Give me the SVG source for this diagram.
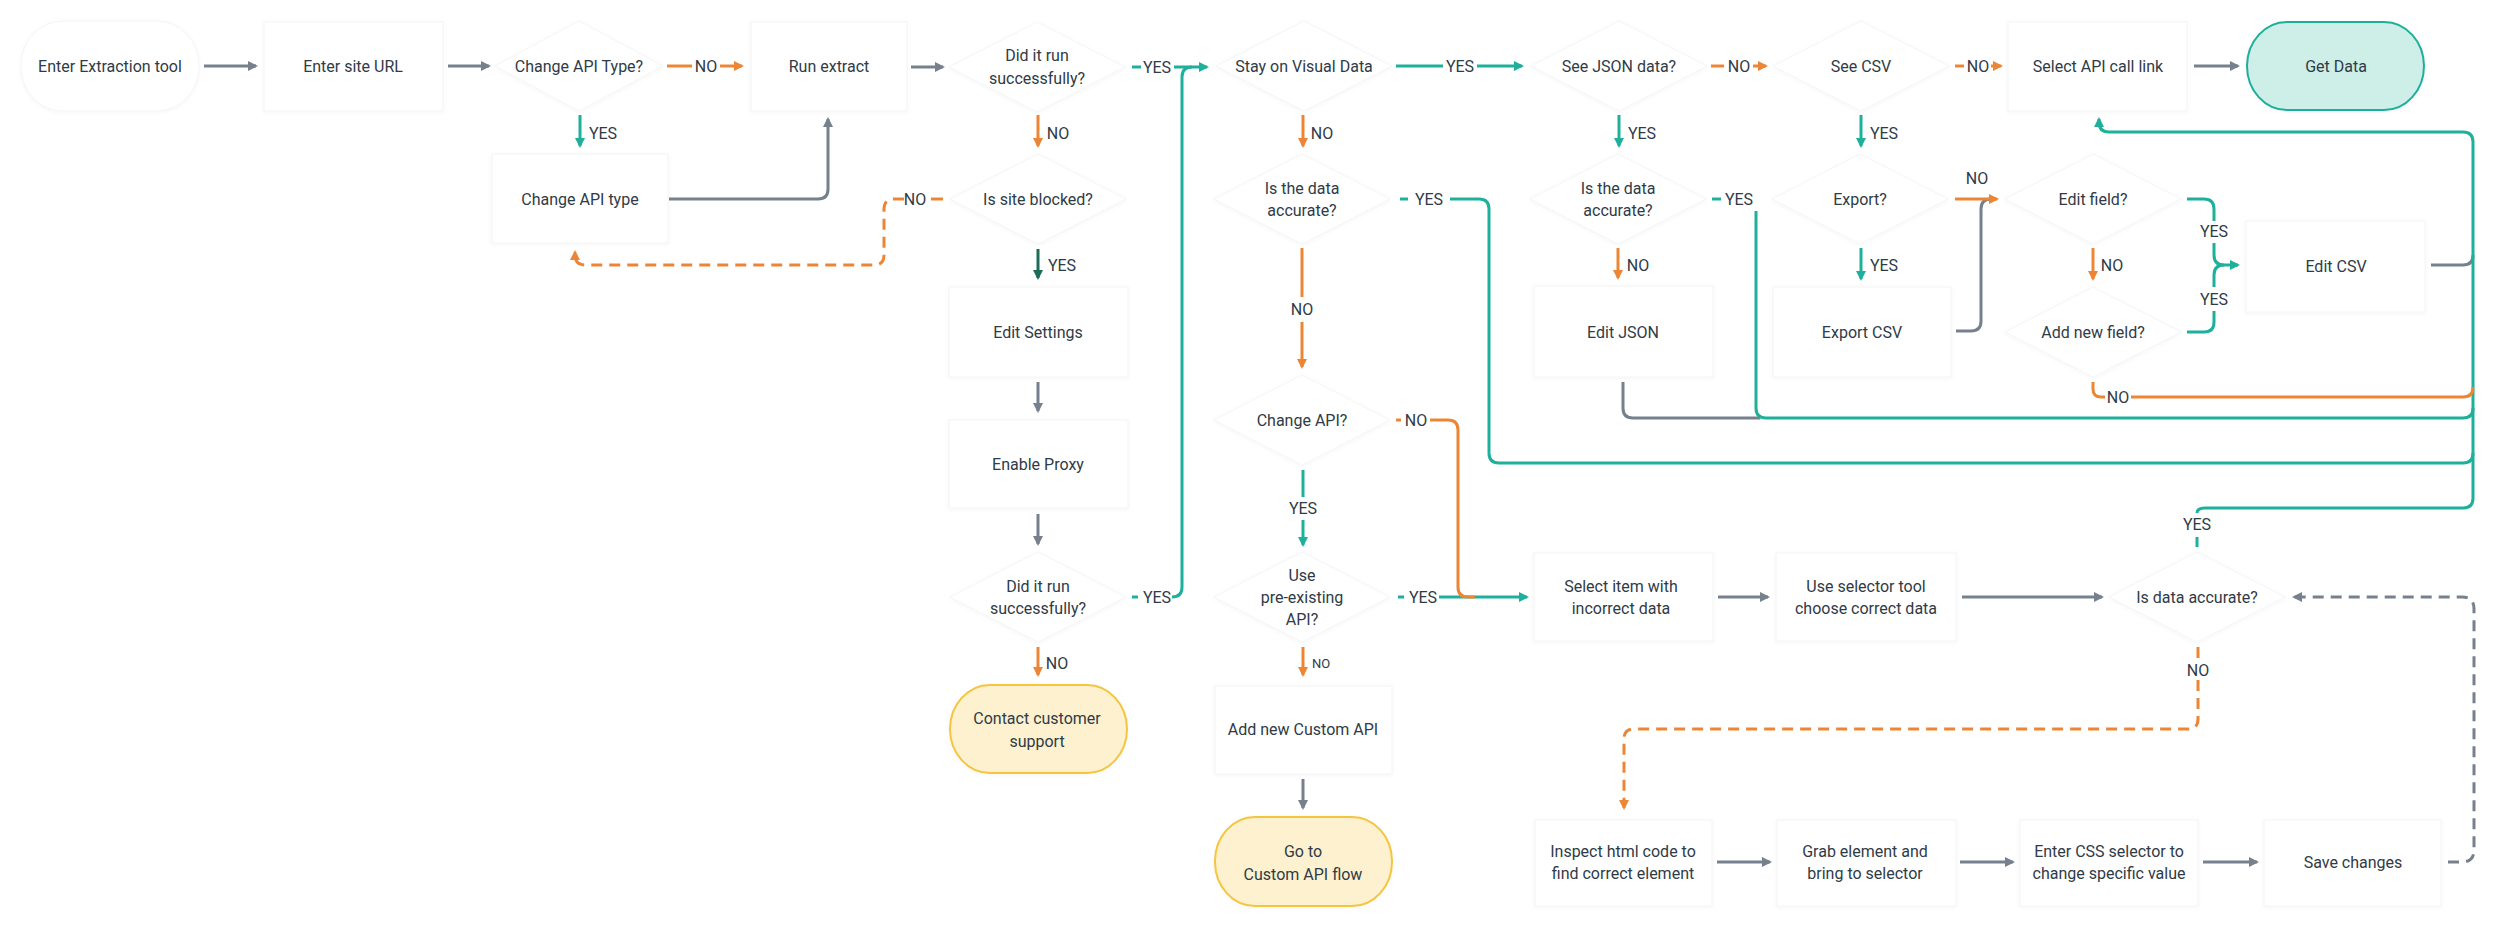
<svg xmlns="http://www.w3.org/2000/svg" width="2500" height="928" viewBox="0 0 2500 928">
<defs>
<style>
.t{font-family:Roboto,"Liberation Sans",sans-serif;font-size:16px;fill:#2f3b46;text-anchor:middle;dominant-baseline:central}
.s{font-size:13px}
.box{fill:#ffffff;stroke:#f3f4f5;stroke-width:1}
.dia{fill:#ffffff;stroke:#f4f5f6;stroke-width:1}
.e{fill:none;stroke-width:3}
.g{stroke:#76818d}.tl{stroke:#1fb09c}.o{stroke:#ec8636}.dg{stroke:#1c6c58}
.d{stroke-dasharray:11 7}
</style>
<filter id="sh" x="-10%" y="-10%" width="120%" height="130%"><feDropShadow dx="0" dy="1" stdDeviation="2" flood-color="#000" flood-opacity="0.04"/></filter>
<marker id="ag" viewBox="0 0 10 10" refX="8" refY="5" markerWidth="10" markerHeight="10" markerUnits="userSpaceOnUse" orient="auto"><path d="M0,0 L10,5 L0,10 z" fill="#76818d"/></marker>
<marker id="at" viewBox="0 0 10 10" refX="8" refY="5" markerWidth="10" markerHeight="10" markerUnits="userSpaceOnUse" orient="auto"><path d="M0,0 L10,5 L0,10 z" fill="#1fb09c"/></marker>
<marker id="ao" viewBox="0 0 10 10" refX="8" refY="5" markerWidth="10" markerHeight="10" markerUnits="userSpaceOnUse" orient="auto"><path d="M0,0 L10,5 L0,10 z" fill="#ec8636"/></marker>
<marker id="ad" viewBox="0 0 10 10" refX="8" refY="5" markerWidth="10" markerHeight="10" markerUnits="userSpaceOnUse" orient="auto"><path d="M0,0 L10,5 L0,10 z" fill="#1c6c58"/></marker>
</defs>
<rect width="2500" height="928" fill="#ffffff"/>

<g id="connectors">
<!-- grey -->
<path class="e g" d="M204,66 H256" marker-end="url(#ag)"/>
<path class="e g" d="M448,66 H489" marker-end="url(#ag)"/>
<path class="e g" d="M911,67 H943" marker-end="url(#ag)"/>
<path class="e g" d="M669,199 H818 Q828,199 828,189 V119" marker-end="url(#ag)"/>
<path class="e g" d="M1038,382 V411" marker-end="url(#ag)"/>
<path class="e g" d="M1038,514 V544" marker-end="url(#ag)"/>
<path class="e g" d="M1303,779 V808" marker-end="url(#ag)"/>
<path class="e g" d="M1718,597 H1768" marker-end="url(#ag)"/>
<path class="e g" d="M1962,597 H2102" marker-end="url(#ag)"/>
<path class="e g" d="M1717,862 H1770" marker-end="url(#ag)"/>
<path class="e g" d="M1960,862 H2013" marker-end="url(#ag)"/>
<path class="e g" d="M2203,862 H2257" marker-end="url(#ag)"/>
<path class="e g" d="M2194,66 H2238" marker-end="url(#ag)"/>
<path class="e g" d="M1623,382 V408 Q1623,418 1633,418 H1760"/>
<path class="e g" d="M1956,331 H1971 Q1981,331 1981,321 V209 Q1981,199 1991,199"/>
<path class="e g" d="M2431,265 H2463 Q2473,265 2473,255"/>
<path class="e g d" d="M2448,862 H2462 Q2474,862 2474,850 V609 Q2474,597 2462,597 H2294" marker-end="url(#ag)"/>

<!-- teal -->
<path class="e tl" d="M1132,67 H1141"/>
<path class="e tl" d="M1174,67 H1207" marker-end="url(#at)"/>
<path class="e tl" d="M1172,597 Q1182,597 1182,587 V77 Q1182,67 1192,67"/>
<path class="e tl" d="M1132,597 H1138"/>
<path class="e tl" d="M1396,66 H1443"/>
<path class="e tl" d="M1477,66 H1522" marker-end="url(#at)"/>
<path class="e tl" d="M580,115 V146" marker-end="url(#at)"/>
<path class="e tl" d="M1619,115 V146" marker-end="url(#at)"/>
<path class="e tl" d="M1861,115 V146" marker-end="url(#at)"/>
<path class="e tl" d="M1400,199 H1408"/>
<path class="e tl" d="M1450,199 H1479 Q1489,199 1489,209 V453 Q1489,463 1499,463 H2463 Q2473,463 2473,453"/>
<path class="e tl" d="M1712,199 H1721"/>
<path class="e tl" d="M1756,211 V408 Q1756,418 1766,418 H2463 Q2473,418 2473,408"/>
<path class="e tl" d="M1861,248 V279" marker-end="url(#at)"/>
<path class="e tl" d="M2187,199 H2204 Q2214,199 2214,209 V221"/>
<path class="e tl" d="M2214,243 V255 Q2214,265 2224,265 H2238" marker-end="url(#at)"/>
<path class="e tl" d="M2187,332 H2204 Q2214,332 2214,322 V311"/>
<path class="e tl" d="M2214,287 V275 Q2214,265 2224,265"/>
<path class="e tl" d="M2197,547 V537"/>
<path class="e tl" d="M2197,513 Q2197,508 2205,508 H2463 Q2473,508 2473,498 V142 Q2473,132 2463,132 H2109 Q2099,132 2099,122 V119" marker-end="url(#at)"/>
<path class="e tl" d="M1303,470 V497"/>
<path class="e tl" d="M1303,520 V545" marker-end="url(#at)"/>
<path class="e tl" d="M1398,597 H1404"/>
<path class="e tl" d="M1439,597 H1527" marker-end="url(#at)"/>

<!-- orange -->
<path class="e o" d="M667,66 H692"/>
<path class="e o" d="M720,66 H742" marker-end="url(#ao)"/>
<path class="e o" d="M1711,66 H1724"/>
<path class="e o" d="M1753,66 H1766" marker-end="url(#ao)"/>
<path class="e o" d="M1955,66 H1964"/>
<path class="e o" d="M1991,66 H2001" marker-end="url(#ao)"/>
<path class="e o" d="M1038,115 V146" marker-end="url(#ao)"/>
<path class="e o" d="M1303,115 V146" marker-end="url(#ao)"/>
<path class="e o" d="M1302,248 V297"/>
<path class="e o" d="M1302,322 V367" marker-end="url(#ao)"/>
<path class="e o" d="M1618,248 V278" marker-end="url(#ao)"/>
<path class="e o" d="M1955,199 H1997" marker-end="url(#ao)"/>
<path class="e o" d="M2093,248 V279" marker-end="url(#ao)"/>
<path class="e o" d="M2093,382 V389 Q2093,397 2101,397 H2105"/>
<path class="e o" d="M2131,397 H2463 Q2473,397 2473,387"/>
<path class="e o" d="M1396,420 H1401"/>
<path class="e o" d="M1430,420 H1448 Q1458,420 1458,430 V587 Q1458,597 1468,597 H1475"/>
<path class="e o" d="M1038,647 V675" marker-end="url(#ao)"/>
<path class="e o" d="M1303,647 V675" marker-end="url(#ao)"/>
<path class="e o" d="M931,199 H943"/>
<path class="e o d" d="M904,199 H894 Q884,199 884,209 V255 Q884,265 874,265 H585 Q575,265 575,255 V252" marker-end="url(#ao)"/>
<path class="e o d" d="M2198,647 V661"/>
<path class="e o d" d="M2198,680 V719 Q2198,729 2188,729 H1634 Q1624,729 1624,739 V808" marker-end="url(#ao)"/>

<!-- dark green -->
<path class="e dg" d="M1038,249 V278" marker-end="url(#ad)"/>

<!-- labels -->
<text class="t" x="706" y="66">NO</text>
<text class="t" x="1157" y="67">YES</text>
<text class="t" x="1460" y="66">YES</text>
<text class="t" x="1739" y="66">NO</text>
<text class="t" x="1978" y="66">NO</text>
<text class="t" x="603" y="133">YES</text>
<text class="t" x="1058" y="133">NO</text>
<text class="t" x="1322" y="133">NO</text>
<text class="t" x="1642" y="133">YES</text>
<text class="t" x="1884" y="133">YES</text>
<text class="t" x="915" y="199">NO</text>
<text class="t" x="1062" y="265">YES</text>
<text class="t" x="1429" y="199">YES</text>
<text class="t" x="1302" y="309">NO</text>
<text class="t" x="1638" y="265">NO</text>
<text class="t" x="1739" y="199">YES</text>
<text class="t" x="1977" y="178">NO</text>
<text class="t" x="1884" y="265">YES</text>
<text class="t" x="2112" y="265">NO</text>
<text class="t" x="2214" y="231">YES</text>
<text class="t" x="2214" y="299">YES</text>
<text class="t" x="2118" y="397">NO</text>
<text class="t" x="2197" y="524">YES</text>
<text class="t" x="1416" y="420">NO</text>
<text class="t" x="1303" y="508">YES</text>
<text class="t" x="1423" y="597">YES</text>
<text class="t" x="1157" y="597">YES</text>
<text class="t" x="1057" y="663">NO</text>
<text class="t s" x="1321" y="663">NO</text>
<text class="t" x="2198" y="670">NO</text>
</g>

<g id="n-enter-tool"><rect class="box" filter="url(#sh)" x="21" y="21" width="178" height="90" rx="42" ry="44"/><text class="t" x="110" y="66">Enter Extraction tool</text></g>
<g id="n-site-url"><rect class="box" filter="url(#sh)" x="264" y="22" width="179" height="89"/><text class="t" x="353" y="66">Enter site URL</text></g>
<g id="n-change-type-q"><polygon class="dia" filter="url(#sh)" points="579,21 663,66 579,111 495,66"/><text class="t" x="579" y="66">Change API Type?</text></g>
<g id="n-run-extract"><rect class="box" filter="url(#sh)" x="751" y="22" width="156" height="89"/><text class="t" x="829" y="66">Run extract</text></g>
<g id="n-did-run-1"><polygon class="dia" filter="url(#sh)" points="1037,22 1125,67 1037,112 949,67"/><text class="t" x="1037" y="55.5">Did it run</text><text class="t" x="1037" y="78.5">successfully?</text></g>
<g id="n-change-type"><rect class="box" filter="url(#sh)" x="492" y="154" width="176" height="89"/><text class="t" x="580" y="199">Change API type</text></g>
<g id="n-site-blocked"><polygon class="dia" filter="url(#sh)" points="1038,154 1126,199 1038,244 950,199"/><text class="t" x="1038" y="199">Is site blocked?</text></g>
<g id="n-edit-settings"><rect class="box" filter="url(#sh)" x="949" y="287" width="179" height="90"/><text class="t" x="1038" y="332">Edit Settings</text></g>
<g id="n-enable-proxy"><rect class="box" filter="url(#sh)" x="949" y="420" width="179" height="88"/><text class="t" x="1038" y="464">Enable Proxy</text></g>
<g id="n-did-run-2"><polygon class="dia" filter="url(#sh)" points="1038,552 1126,597 1038,642 950,597"/><text class="t" x="1038" y="586">Did it run</text><text class="t" x="1038" y="608">successfully?</text></g>
<g id="n-contact"><rect filter="url(#sh)" x="950" y="685" width="177" height="88" rx="40" ry="44" fill="#fdf1cf" stroke="#f4c53e" stroke-width="2"/><text class="t" x="1037" y="718">Contact customer</text><text class="t" x="1037" y="741">support</text></g>
<g id="n-stay-visual"><polygon class="dia" filter="url(#sh)" points="1304,21 1392,66 1304,111 1216,66"/><text class="t" x="1304" y="66">Stay on Visual Data</text></g>
<g id="n-visual-accurate"><polygon class="dia" filter="url(#sh)" points="1302,154 1390,199 1302,244 1214,199"/><text class="t" x="1302" y="188">Is the data</text><text class="t" x="1302" y="210">accurate?</text></g>
<g id="n-change-api"><polygon class="dia" filter="url(#sh)" points="1302,375 1390,420 1302,465 1214,420"/><text class="t" x="1302" y="420">Change API?</text></g>
<g id="n-pre-existing"><polygon class="dia" filter="url(#sh)" points="1302,552 1390,597 1302,642 1214,597"/><text class="t" x="1302" y="575">Use</text><text class="t" x="1302" y="597">pre-existing</text><text class="t" x="1302" y="619">API?</text></g>
<g id="n-add-custom"><rect class="box" filter="url(#sh)" x="1215" y="686" width="177" height="88"/><text class="t" x="1303" y="729">Add new Custom API</text></g>
<g id="n-go-custom"><rect filter="url(#sh)" x="1215" y="817" width="177" height="89" rx="40" ry="44" fill="#fdf1cf" stroke="#f4c53e" stroke-width="2"/><text class="t" x="1303" y="851">Go to</text><text class="t" x="1303" y="874">Custom API flow</text></g>
<g id="n-see-json"><polygon class="dia" filter="url(#sh)" points="1619,21 1707,66 1619,111 1531,66"/><text class="t" x="1619" y="66">See JSON data?</text></g>
<g id="n-json-accurate"><polygon class="dia" filter="url(#sh)" points="1618,154 1706,199 1618,244 1530,199"/><text class="t" x="1618" y="188">Is the data</text><text class="t" x="1618" y="210">accurate?</text></g>
<g id="n-edit-json"><rect class="box" filter="url(#sh)" x="1534" y="286" width="179" height="91"/><text class="t" x="1623" y="332">Edit JSON</text></g>
<g id="n-see-csv"><polygon class="dia" filter="url(#sh)" points="1861,21 1949,66 1861,111 1773,66"/><text class="t" x="1861" y="66">See CSV</text></g>
<g id="n-export-q"><polygon class="dia" filter="url(#sh)" points="1860,154 1948,199 1860,244 1772,199"/><text class="t" x="1860" y="199">Export?</text></g>
<g id="n-export-csv"><rect class="box" filter="url(#sh)" x="1773" y="287" width="178" height="90"/><text class="t" x="1862" y="332">Export CSV</text></g>
<g id="n-edit-field"><polygon class="dia" filter="url(#sh)" points="2093,154 2181,199 2093,244 2005,199"/><text class="t" x="2093" y="199">Edit field?</text></g>
<g id="n-add-field"><polygon class="dia" filter="url(#sh)" points="2093,287 2181,332 2093,377 2005,332"/><text class="t" x="2093" y="332">Add new field?</text></g>
<g id="n-edit-csv"><rect class="box" filter="url(#sh)" x="2246" y="221" width="179" height="91"/><text class="t" x="2336" y="266">Edit CSV</text></g>
<g id="n-select-api"><rect class="box" filter="url(#sh)" x="2008" y="22" width="179" height="89"/><text class="t" x="2098" y="66">Select API call link</text></g>
<g id="n-get-data"><rect filter="url(#sh)" x="2247" y="22" width="177" height="88" rx="40" ry="44" fill="#ceeee8" stroke="#1fb09c" stroke-width="2"/><text class="t" x="2336" y="66">Get Data</text></g>
<g id="n-select-item"><rect class="box" filter="url(#sh)" x="1534" y="553" width="179" height="88"/><text class="t" x="1621" y="586">Select item with</text><text class="t" x="1621" y="608">incorrect data</text></g>
<g id="n-use-selector"><rect class="box" filter="url(#sh)" x="1776" y="553" width="180" height="88"/><text class="t" x="1866" y="586">Use selector tool</text><text class="t" x="1866" y="608">choose correct data</text></g>
<g id="n-data-accurate"><polygon class="dia" filter="url(#sh)" points="2197,552 2285,597 2197,642 2109,597"/><text class="t" x="2197" y="597">Is data accurate?</text></g>
<g id="n-inspect"><rect class="box" filter="url(#sh)" x="1535" y="820" width="177" height="86"/><text class="t" x="1623" y="851">Inspect html code to</text><text class="t" x="1623" y="873">find correct element</text></g>
<g id="n-grab"><rect class="box" filter="url(#sh)" x="1777" y="820" width="179" height="86"/><text class="t" x="1865" y="851">Grab element and</text><text class="t" x="1865" y="873">bring to selector</text></g>
<g id="n-enter-css"><rect class="box" filter="url(#sh)" x="2020" y="820" width="178" height="86"/><text class="t" x="2109" y="851">Enter CSS selector to</text><text class="t" x="2109" y="873">change specific value</text></g>
<g id="n-save"><rect class="box" filter="url(#sh)" x="2264" y="820" width="177" height="86"/><text class="t" x="2353" y="862">Save changes</text></g>
</svg>
